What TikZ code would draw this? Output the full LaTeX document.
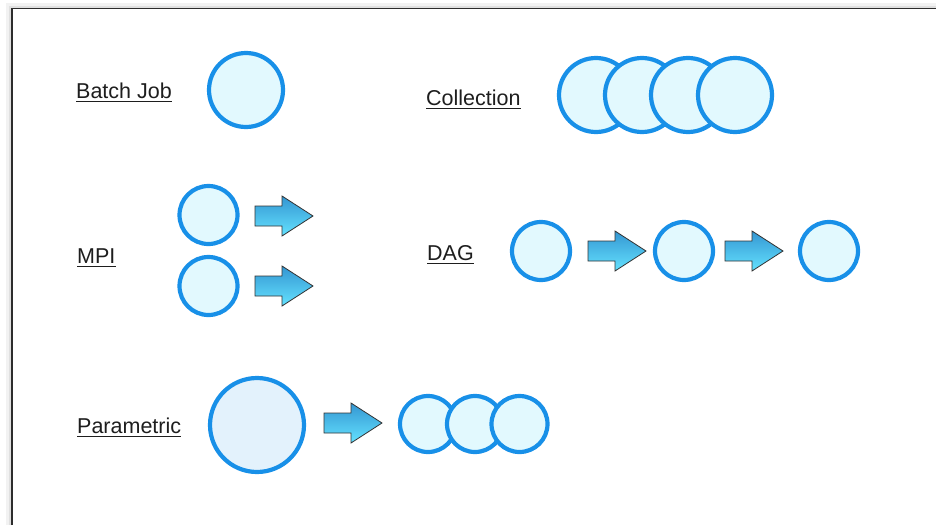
\documentclass[tikz,border=0pt]{standalone}
\usepackage{fontspec}
\setmainfont{Liberation Sans}
\definecolor{ringblue}{RGB}{24,144,232}
\definecolor{jobfill}{RGB}{226,249,254}
\definecolor{bigfill}{RGB}{227,242,252}
\definecolor{arrowtop}{RGB}{52,150,210}
\definecolor{arrowbot}{RGB}{100,226,255}
\definecolor{framegray}{RGB}{45,45,45}
\definecolor{labelgray}{RGB}{30,30,30}
\tikzset{
  job/.style={circle, draw=ringblue, line width=4.2pt, fill=jobfill, inner sep=0pt, minimum size=#1},
  job/.default=60pt,
  biglabel/.style={anchor=base west, inner sep=0pt, text=labelgray, font=\fontsize{21.5}{24}\selectfont},
  pics/blockarrow/.style={code={
    \draw[draw=black!80, line width=0.8pt, top color=arrowtop, bottom color=arrowbot, line join=miter]
      (0,-10) -- (27,-10) -- (27,-20) -- (58,0) -- (27,20) -- (27,10) -- (0,10) -- cycle;
  }}
}
\newcommand{\ulabel}[3]{%
  \node[biglabel] (#1) at (#2) {#3};
  \draw[labelgray, line width=1.3pt] ([yshift=-3.5pt]#1.base west) -- ([yshift=-3.5pt]#1.base east);
}
\begin{document}
\begin{tikzpicture}[x=1pt, y=-1pt]
\useasboundingbox (0,0) rectangle (936,525);
\fill[white] (0,0) rectangle (936,525);

% frame with soft shadow
\draw[black!5, line width=6pt] (9,525) -- (9,6) -- (936,6);
\draw[black!12, line width=2.5pt] (10.5,525) -- (10.5,7.5) -- (936,7.5);
\draw[framegray, line width=1.8pt] (12,525) -- (12,8.5) -- (936,8.5);

% labels
\ulabel{lbatch}{76,98}{Batch Job}
\ulabel{lcoll}{426,105}{Collection}
\ulabel{lmpi}{77,263}{MPI}
\ulabel{ldag}{427,260}{DAG}
\ulabel{lparam}{77,433}{Parametric}

% batch job
\node[job=74pt] (batch) at (246,90) {};

% collection
\node[job=74pt] (c1) at (596,95) {};
\node[job=74pt] (c2) at (642,95) {};
\node[job=74pt] (c3) at (688,95) {};
\node[job=74pt] (c4) at (735,95) {};

% MPI
\node[job=58pt] (m1) at (208.5,215) {};
\node[job=58pt] (m2) at (208.5,286) {};
\pic at (255,216) {blockarrow};
\pic at (255,286) {blockarrow};

% DAG
\node[job=58pt] (d1) at (541,251) {};
\node[job=58pt] (d2) at (684,251) {};
\node[job=58pt] (d3) at (829,251) {};
\pic at (588,251) {blockarrow};
\pic at (725,251) {blockarrow};

% parametric
\node[job=94pt, fill=bigfill] (p0) at (257,425) {};
\pic at (324,423) {blockarrow};
\node[job=56pt] (p1) at (428,424) {};
\node[job=56pt] (p2) at (475,424) {};
\node[job=56pt] (p3) at (519.5,424) {};
\end{tikzpicture}
\end{document}
